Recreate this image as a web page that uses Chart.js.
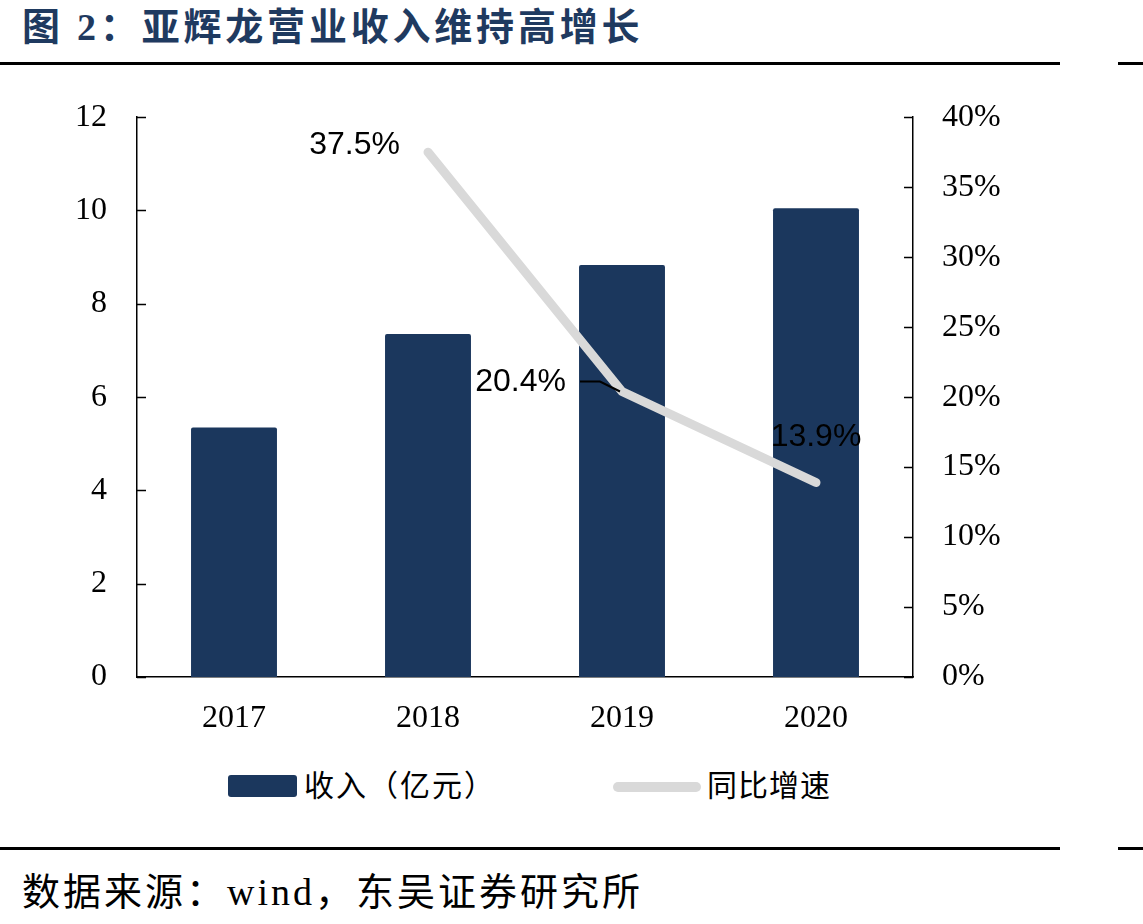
<!DOCTYPE html>
<html>
<head>
<meta charset="utf-8">
<title>亚辉龙营业收入维持高增长</title>
<script src="https://cdn.jsdelivr.net/npm/chart.js"></script>
<style>
  body { margin: 0; background: #fff; width: 1143px; height: 924px; position: relative; overflow: hidden; }
  #title { position: absolute; left: 22px; top: -4px; font: bold 38px "Liberation Serif", "Noto Sans CJK SC"; color: #1f3a60; letter-spacing: 3.8px; white-space: nowrap; }
  .rule { position: absolute; height: 3px; background: #000; }
  #source { position: absolute; left: 22px; top: 861px; font: 38px "Liberation Serif", "Noto Sans CJK SC"; color: #000; letter-spacing: 3px; white-space: nowrap; }
  .lg { position: absolute; font: 30px "Liberation Serif", "Noto Sans CJK SC"; color: #000; white-space: nowrap; line-height: 34px; }
</style>
</head>
<body>
<div id="title">图 2：亚辉龙营业收入维持高增长</div>
<div class="rule" style="top:62px;left:0;width:1060px"></div>
<div class="rule" style="top:62px;left:1118px;width:25px"></div>

<div style="position:absolute;left:0;top:76px;width:1060px;height:654px">
  <canvas id="myChart"></canvas>
</div>

<div style="position:absolute;left:228px;top:775px;width:69px;height:22px;background:#1b375d;border-radius:3px"></div>
<div class="lg" style="left:304px;top:769px;letter-spacing:2px">收入（亿元）</div>
<div style="position:absolute;left:613px;top:782px;width:88px;height:10px;background:#d9d9d9;border-radius:5px"></div>
<div class="lg" style="left:707px;top:769px;letter-spacing:1px">同比增速</div>

<div class="rule" style="top:847px;left:0;width:1060px"></div>
<div class="rule" style="top:847px;left:1118px;width:25px"></div>
<div id="source">数据来源：wind，东吴证券研究所</div>

<script>
const years = ['2017', '2018', '2019', '2020'];
const revenue = [5.35, 7.35, 8.83, 10.05];      // 收入（亿元）
const growth = [null, 37.5, 20.4, 13.9];        // 同比增速 (%)

const navy = '#1b375d';
const grey = '#d9d9d9';

// inward tick marks + value labels for the growth line
const decor = {
    id: 'decor',
    afterDatasetsDraw(chart) {
        const ctx = chart.ctx;
        const y = chart.scales.y, y1 = chart.scales.y1;
        ctx.save();
        ctx.strokeStyle = '#000';
        ctx.lineWidth = 1.5;
        ctx.beginPath();
        y.ticks.forEach((t, i) => {
            const py = Math.round(y.getPixelForTick(i)) + 0.5;
            ctx.moveTo(y.right, py); ctx.lineTo(y.right + 9, py);
        });
        y1.ticks.forEach((t, i) => {
            const py = Math.round(y1.getPixelForTick(i)) + 0.5;
            ctx.moveTo(y1.left, py); ctx.lineTo(y1.left - 9, py);
        });
        ctx.stroke();

        const meta = chart.getDatasetMeta(1);
        ctx.font = '32px "Liberation Sans", Arial';
        ctx.fillStyle = '#000';
        ctx.textBaseline = 'middle';
        meta.data.forEach((pt, i) => {
            const v = growth[i];
            if (v == null) return;
            const txt = v.toFixed(1) + '%';
            if (i === 1) {
                ctx.textAlign = 'right';
                ctx.fillText(txt, pt.x - 28, pt.y - 7);
            } else if (i === 2) {
                ctx.textAlign = 'right';
                ctx.fillText(txt, pt.x - 56, pt.y - 9);
                ctx.lineWidth = 2;
                ctx.beginPath();
                ctx.moveTo(pt.x - 42, pt.y - 10);
                ctx.lineTo(pt.x - 22, pt.y - 10);
                ctx.lineTo(pt.x - 2, pt.y);
                ctx.stroke();
            } else {
                ctx.textAlign = 'center';
                ctx.fillText(txt, pt.x, pt.y - 45);
            }
        });
        ctx.restore();
    }
};

const tickFont = { family: 'Liberation Serif', size: 32 };

const ctx = document.getElementById('myChart').getContext('2d');
const myChart = new Chart(ctx, {
    data: {
        labels: years,
        datasets: [{
            type: 'bar',
            label: '收入（亿元）',
            data: revenue,
            backgroundColor: navy,
            borderRadius: 2,
            borderSkipped: 'bottom',
            categoryPercentage: 1,
            barPercentage: 0.443,
            yAxisID: 'y',
            order: 1
        }, {
            type: 'line',
            label: '同比增速',
            data: growth,
            borderColor: grey,
            borderWidth: 9,
            borderCapStyle: 'round',
            borderJoinStyle: 'round',
            pointRadius: 0,
            tension: 0,
            yAxisID: 'y1',
            order: 0
        }]
    },
    options: {
        responsive: true,
        maintainAspectRatio: false,
        animation: false,
        layout: { padding: { top: 7, left: 0, right: 0, bottom: 0 } },
        plugins: { legend: { display: false }, tooltip: { enabled: false } },
        scales: {
            x: {
                grid: { display: false },
                border: { display: true, color: '#000', width: 1.5 },
                ticks: { color: '#000', padding: 14, font: tickFont },
                afterFit(s) { s.height = 53; }
            },
            y: {
                position: 'left',
                min: 0, max: 12,
                grid: { display: false },
                border: { display: true, color: '#000', width: 1.5 },
                ticks: { stepSize: 2, color: '#000', padding: 22, font: tickFont },
                afterFit(s) { s.width = 137; }
            },
            y1: {
                position: 'right',
                min: 0, max: 40,
                grid: { display: false },
                border: { display: true, color: '#000', width: 1.5 },
                ticks: { stepSize: 5, color: '#000', padding: 21, font: tickFont,
                         callback: v => v + '%' },
                afterFit(s) { s.width = 147; }
            }
        }
    },
    plugins: [decor]
});
</script>
</body>
</html>
